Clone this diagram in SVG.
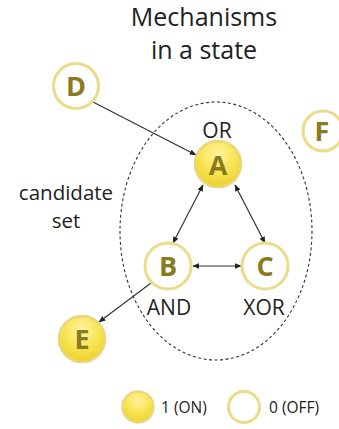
<svg xmlns="http://www.w3.org/2000/svg" width="339" height="429" viewBox="0 0 339 429">
<defs>
<radialGradient id="on" cx="0.5" cy="0.3" r="0.7">
<stop offset="0" stop-color="#fff3a0"/>
<stop offset="0.6" stop-color="#f7e34e"/>
<stop offset="1" stop-color="#eccf2e"/>
</radialGradient>
<marker id="ah" viewBox="0 0 10 10" refX="9" refY="5" markerWidth="7" markerHeight="7" orient="auto-start-reverse" markerUnits="userSpaceOnUse">
<path d="M0,1 L10,5 L0,9 z" fill="#222"/>
</marker>
</defs>
<style>
.txt{font-family:"Open Sans","Liberation Sans",sans-serif;fill:#222;}
.on{fill:url(#on);stroke:#ead77a;stroke-width:2.5;}
.off{fill:#fff;stroke:#ebdc8a;stroke-width:3;}
.let{font-family:"Open Sans","Liberation Sans",sans-serif;font-weight:bold;font-size:27px;fill:#8a7a1e;text-anchor:middle;}
.ed{stroke:#333;stroke-width:1.2;fill:none;}
</style>
<rect width="339" height="429" fill="#fff"/>
<text class="txt" x="204" y="26" font-size="25" text-anchor="middle">Mechanisms</text>
<text class="txt" x="204" y="59" font-size="25" text-anchor="middle">in a state</text>
<text class="txt" x="66" y="200" font-size="20.5" text-anchor="middle">candidate</text>
<text class="txt" x="66" y="228" font-size="20.5" text-anchor="middle">set</text>
<ellipse cx="216" cy="231" rx="96" ry="129" fill="none" stroke="#333" stroke-width="1.1" stroke-dasharray="3,2.5"/>
<g id="connectors">
<line class="ed" x1="93" y1="102" x2="196" y2="155" marker-end="url(#ah)"/>
<line class="ed" x1="203" y1="185" x2="173" y2="243" marker-start="url(#ah)" marker-end="url(#ah)"/>
<line class="ed" x1="235" y1="185" x2="265" y2="243" marker-start="url(#ah)" marker-end="url(#ah)"/>
<line class="ed" x1="193" y1="266" x2="241" y2="266" marker-start="url(#ah)" marker-end="url(#ah)"/>
<line class="ed" x1="151" y1="283" x2="99" y2="322" marker-end="url(#ah)"/>
</g>
<g id="D"><circle class="off" cx="76" cy="86" r="22.5"/><text class="let" x="76" y="96">D</text></g>
<g id="F"><circle class="off" cx="323" cy="131" r="20"/><text class="let" x="322" y="141">F</text></g>
<g id="A"><circle class="on" cx="218" cy="164" r="23"/><text class="let" x="218" y="175">A</text>
<text class="txt" x="217" y="138" font-size="21" text-anchor="middle">OR</text></g>
<g id="B"><circle class="off" cx="168" cy="266" r="23"/><text class="let" x="168" y="276">B</text>
<text class="txt" x="169" y="315" font-size="21" text-anchor="middle">AND</text></g>
<g id="C"><circle class="off" cx="265" cy="266" r="23"/><text class="let" x="265" y="276">C</text>
<text class="txt" x="264" y="315" font-size="21" text-anchor="middle">XOR</text></g>
<g id="E"><circle class="on" cx="82" cy="339" r="23"/><text class="let" x="82" y="349">E</text></g>
<g id="legend">
<circle class="on" cx="138" cy="407" r="15.5"/>
<text class="txt" x="161" y="413" font-size="15.5">1 (ON)</text>
<circle class="off" cx="244" cy="407" r="15.5"/>
<text class="txt" x="269" y="413" font-size="15.5">0 (OFF)</text>
</g>
</svg>
